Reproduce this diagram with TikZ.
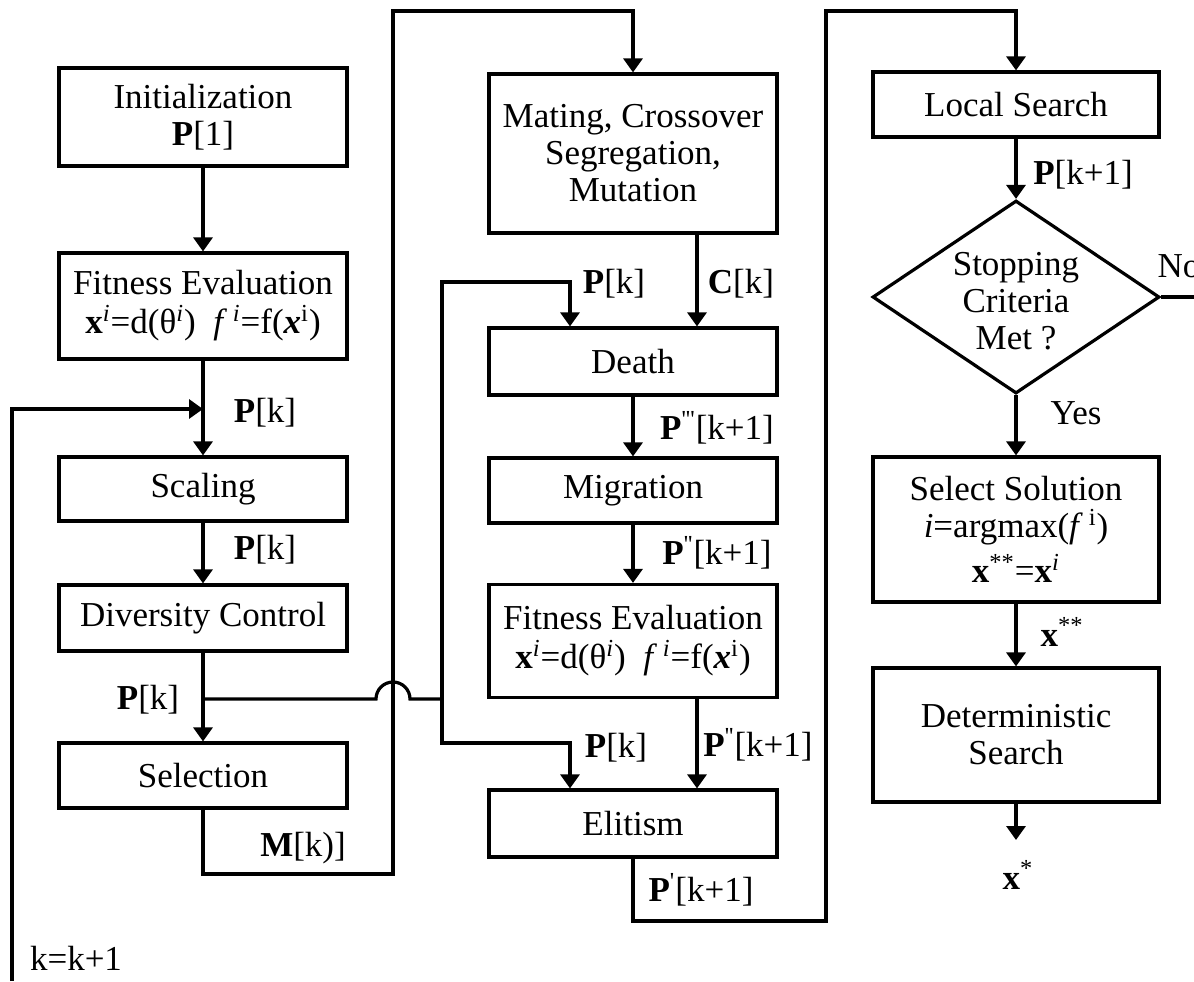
\documentclass[tikz,border=0pt]{standalone}
\usepackage{fontspec}
\setmainfont{Liberation Serif}
\usetikzlibrary{shapes.geometric,arrows.meta}
\newcommand{\fitexpr}{\textbf{x}\textsuperscript{\textit{i}}=d(θ\textsuperscript{\textit{i}})~~\textit{f}\,\textsuperscript{\textit{i}}=f(\textbf{\textit{x}}\textsuperscript{i})}
\newcommand{\pr}{\textquotesingle}
\begin{document}
\begin{tikzpicture}[x=0.5pt,y=-0.5pt,line width=1.6pt,
    every node/.style={font=\fontsize{17.5}{18.5}\selectfont},
    blk/.style={draw,rectangle,align=center,inner sep=0pt,minimum width=144pt},
    dec/.style={draw,diamond,align=center,inner sep=0pt,aspect=1.49,minimum width=143.5pt,minimum height=96.5pt},
    arr/.style={-{Triangle[length=7pt,width=9.5pt]}},
    lbl/.style={inner sep=0pt}]
    \useasboundingbox (0,0) rectangle (1194,981);
    \node[blk,minimum height=49pt] (init) at (203,117) {Initialization\\\textbf{P}[1]};
    \node[blk,minimum height=53pt] (fit1) at (203,306) {Fitness Evaluation\\[1pt]\fitexpr};
    \node[blk,minimum height=32pt] (scal) at (203,489) {Scaling};
    \node[blk,minimum height=33pt] (div) at (203,618) {Diversity Control};
    \node[blk,minimum height=32.5pt] (sel) at (203,775.5) {Selection};
    \node[blk,minimum height=79.5pt] (mate) at (633,153.5) {Mating, Crossover\\Segregation,\\Mutation};
    \node[blk,minimum height=33.5pt] (death) at (633,361.5) {Death};
    \node[blk,minimum height=32.5pt] (migr) at (633,490.5) {Migration};
    \node[blk,minimum height=56.5pt] (fit2) at (633,641) {Fitness Evaluation\\[1pt]\fitexpr};
    \node[blk,minimum height=33.5pt] (elit) at (633,823.5) {Elitism};
    \node[blk,minimum width=143pt,minimum height=32.5pt] (loc) at (1016,104.5) {Local Search};
    \node[dec] (stop) at (1016,297) {\\[-3pt]Stopping\\Criteria\\Met ?};
    \node[blk,minimum width=143pt,minimum height=72.5pt] (selsol) at (1016,529.5) {Select Solution\\\textit{i}=argmax(\textit{f}\,\textsuperscript{i})\\[4pt]\textbf{x}\textsuperscript{**}=\textbf{x}\textsuperscript{\textit{i}}};
    \node[blk,minimum width=143pt,minimum height=67pt] (det) at (1016,735) {Deterministic\\Search};
    \coordinate (kin) at (12,981);
    \coordinate (kjoin) at (203,409);
    \coordinate (br) at (203,699);
    \coordinate (hop) at (393,699);
    \coordinate (brr) at (442,699);
    \coordinate (pup) at (570,282);
    \coordinate (pdn) at (570,743);
    \coordinate (m1) at (393,874);
    \coordinate (m2) at (393,11);
    \coordinate (e1) at (826,921);
    \coordinate (e2) at (826,11);
    \coordinate (nout) at (1194,297);
    \coordinate (xend) at (1016,840);
    \draw[arr] (init) -- (fit1);
    \draw[arr] (fit1) -- (scal);
    \draw[arr] (kin) |- (kjoin);
    \draw[arr] (scal) -- (div);
    \draw[arr] (div) -- (sel);
    \draw (br) -- ([xshift=-8.5pt]hop) arc[start angle=180,end angle=0,radius=8.5pt] -- (brr);
    \draw[arr] (brr) |- (pup) -- (pup |- death.north);
    \draw[arr] (brr) |- (pdn) -- (pdn |- elit.north);
    \draw[arr] (sel.south) |- (m1) -- (m2) -| (mate.north);
    \draw[arr] ([xshift=32pt]mate.south) -- ([xshift=32pt]death.north);
    \draw[arr] (death) -- (migr);
    \draw[arr] (migr) -- (fit2);
    \draw[arr] ([xshift=32pt]fit2.south) -- ([xshift=32pt]elit.north);
    \draw[arr] (elit.south) |- (e1) -- (e2) -| (loc.north);
    \draw[arr] (loc) -- (stop);
    \draw (stop.east) -- (nout);
    \draw[arr] (stop) -- (selsol);
    \draw[arr] (selsol) -- (det);
    \draw[arr] (det) -- (xend);
    \node[lbl] (lpk1) at (265,413) {\textbf{P}[k]};
    \node[lbl] (lpk2) at (265,550) {\textbf{P}[k]};
    \node[lbl] (lpk3) at (148,700) {\textbf{P}[k]};
    \node[lbl] (lmk) at (303,848) {\textbf{M}[k)]};
    \node[lbl] (lpk4) at (614,284) {\textbf{P}[k]};
    \node[lbl] (lck) at (741,284) {\textbf{C}[k]};
    \node[lbl] (lp3) at (717,428) {\textbf{P}\textsuperscript{\pr\pr\pr}[k+1]};
    \node[lbl] (lp2a) at (717,553) {\textbf{P}\textsuperscript{\pr\pr}[k+1]};
    \node[lbl] (lpk5) at (616,748) {\textbf{P}[k]};
    \node[lbl] (lp2b) at (758,745) {\textbf{P}\textsuperscript{\pr\pr}[k+1]};
    \node[lbl] (lp1) at (701,890) {\textbf{P}\textsuperscript{\pr}[k+1]};
    \node[lbl] (lpn) at (1083,175) {\textbf{P}[k+1]};
    \node[lbl,anchor=west] (lno) at (1156,266) {No};
    \node[lbl] (lyes) at (1076,413) {Yes};
    \node[lbl] (lxss) at (1062,632) {\textbf{x}\textsuperscript{**}};
    \node[lbl] (lxs) at (1018,875) {\textbf{x}\textsuperscript{*}};
    \node[lbl] (lkk) at (76,958) {k=k+1};
\end{tikzpicture}
\end{document}
